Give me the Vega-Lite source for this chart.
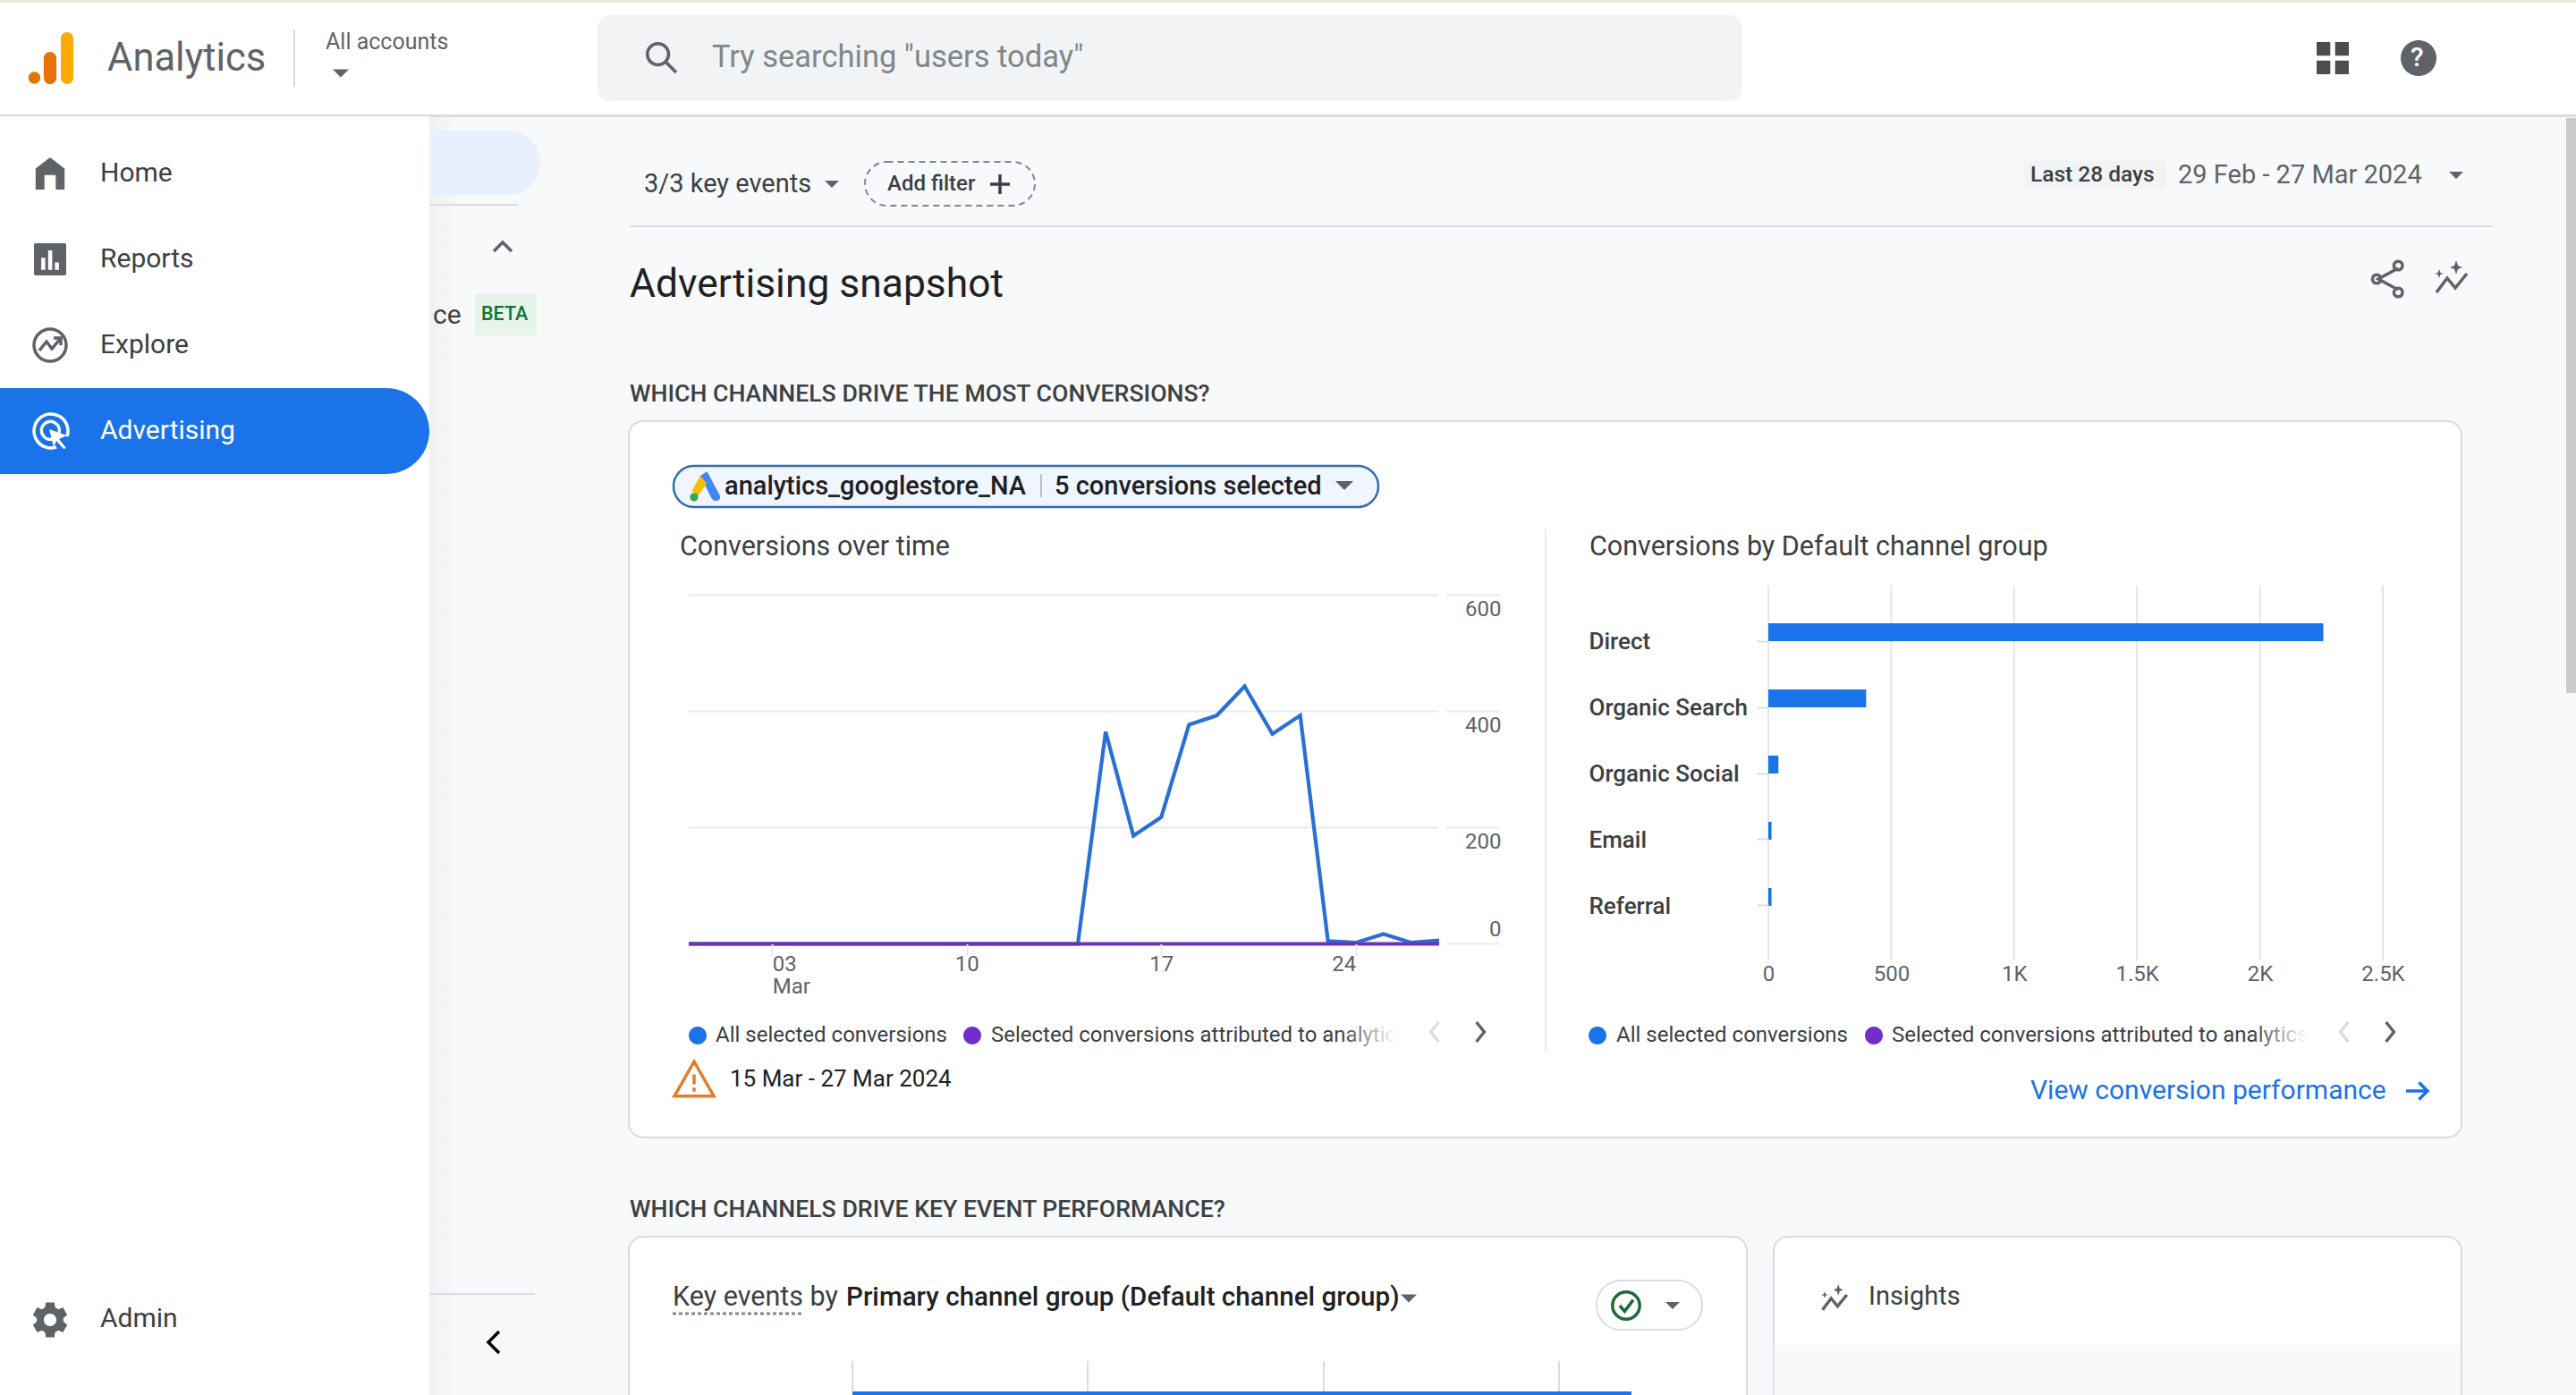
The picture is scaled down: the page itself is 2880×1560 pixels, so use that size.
{
  "$schema": "https://vega.github.io/schema/vega-lite/v6.json",
  "description": "Google Analytics advertising snapshot: conversions over time and by channel group",
  "width": 2880,
  "height": 1560,
  "padding": 0,
  "autosize": {"type": "none"},
  "background": "#f8f9fa",
  "config": {"view": {"stroke": null}},
  "resolve": {"scale": {"x": "independent", "y": "independent", "color": "independent", "size": "independent", "shape": "independent"}},
  "layer": [
    {
      "data": {"values": [{"part": "shadow", "from": 0, "to": 1}]},
      "mark": {"type": "rect", "color": {"gradient": "linear", "x1": 0, "x2": 1, "y1": 0, "y2": 0, "stops": [{"offset": 0, "color": "#eef0f2"}, {"offset": 1, "color": "#f8f9fa"}]}},
      "encoding": {
        "x": {"field": "from", "type": "quantitative", "axis": null, "scale": {"domain": [0, 1], "range": [480, 512], "nice": false, "zero": false}},
        "x2": {"field": "to"},
        "y": {"field": "from", "type": "quantitative", "axis": null, "scale": {"domain": [0, 1], "range": [131, 1560], "nice": false, "zero": false}},
        "y2": {"field": "to"}
      }
    },
    {
      "data": {"values": [{"part": "navPill", "from": 0, "to": 1}]},
      "mark": {"type": "rect", "fill": "#e8f0fe", "cornerRadiusTopRight": 36, "cornerRadiusBottomRight": 36},
      "encoding": {
        "x": {"field": "from", "type": "quantitative", "axis": null, "scale": {"domain": [0, 1], "range": [400, 604], "nice": false, "zero": false}},
        "x2": {"field": "to"},
        "y": {"field": "from", "type": "quantitative", "axis": null, "scale": {"domain": [0, 1], "range": [146, 218], "nice": false, "zero": false}},
        "y2": {"field": "to"}
      }
    },
    {
      "data": {"values": [{"label": "ce"}]},
      "mark": {"type": "text", "font": "Roboto", "fontSize": 30, "fill": "#3c4043", "align": "left", "baseline": "middle"},
      "encoding": {
        "text": {"field": "label"},
        "x": {"field": "label", "type": "nominal", "axis": null, "scale": {"type": "point", "domain": ["ce", "end"], "range": [484, 600], "padding": 0}},
        "y": {"field": "label", "type": "nominal", "axis": null, "scale": {"type": "point", "domain": ["ce", "end"], "range": [353, 400], "padding": 0}}
      }
    },
    {
      "data": {"values": [
        {"part": "header", "from": 0, "to": 1},
        {"part": "strip", "from": 2, "to": 3},
        {"part": "line", "from": 4, "to": 5},
        {"part": "sidebar", "from": 6, "to": 7},
        {"part": "line", "from": 8, "to": 9},
        {"part": "line", "from": 10, "to": 11},
        {"part": "line", "from": 12, "to": 13},
        {"part": "line", "from": 14, "to": 15},
        {"part": "beta", "from": 16, "to": 17},
        {"part": "badge", "from": 18, "to": 19},
        {"part": "scrollbar", "from": 20, "to": 21}
      ]},
      "mark": {"type": "rect"},
      "encoding": {
        "x": {"field": "from", "type": "quantitative", "axis": null, "scale": {"domain": [0, 1, 2, 3, 4, 5, 6, 7, 8, 9, 10, 11, 12, 13, 14, 15, 16, 17, 18, 19, 20, 21], "range": [0, 2880, 0, 2880, 0, 2880, 0, 480, 328, 330, 480, 579, 480, 598, 704, 2787, 531, 600, 2263, 2422, 2869, 2880], "nice": false, "zero": false}},
        "x2": {"field": "to"},
        "y": {"field": "from", "type": "quantitative", "axis": null, "scale": {"domain": [0, 1, 2, 3, 4, 5, 6, 7, 8, 9, 10, 11, 12, 13, 14, 15, 16, 17, 18, 19, 20, 21], "range": [0, 130, 0, 3, 128, 131, 130, 1560, 33, 97, 228, 230, 1446, 1448, 252, 254, 328, 375, 180, 212, 132, 775], "nice": false, "zero": false}},
        "y2": {"field": "to"},
        "color": {"field": "part", "type": "nominal", "legend": null, "scale": {"domain": ["header", "strip", "line", "sidebar", "beta", "badge", "scrollbar"], "range": ["#ffffff", "#e8e8de", "#dadce0", "#ffffff", "#e6f4ea", "#f1f3f4", "#c8cacc"]}}
      }
    },
    {
      "data": {"values": [{"part": "active", "from": 0, "to": 1}]},
      "mark": {"type": "rect", "fill": "#1a73e8", "cornerRadiusTopRight": 48, "cornerRadiusBottomRight": 48},
      "encoding": {
        "x": {"field": "from", "type": "quantitative", "axis": null, "scale": {"domain": [0, 1], "range": [0, 480], "nice": false, "zero": false}},
        "x2": {"field": "to"},
        "y": {"field": "from", "type": "quantitative", "axis": null, "scale": {"domain": [0, 1], "range": [434, 530], "nice": false, "zero": false}},
        "y2": {"field": "to"}
      }
    },
    {
      "data": {"values": [{"part": "search", "from": 0, "to": 1}]},
      "mark": {"type": "rect", "fill": "#f1f3f4", "cornerRadius": 14},
      "encoding": {
        "x": {"field": "from", "type": "quantitative", "axis": null, "scale": {"domain": [0, 1], "range": [668, 1948], "nice": false, "zero": false}},
        "x2": {"field": "to"},
        "y": {"field": "from", "type": "quantitative", "axis": null, "scale": {"domain": [0, 1], "range": [17, 113], "nice": false, "zero": false}},
        "y2": {"field": "to"}
      }
    },
    {
      "data": {"values": [{"part": "addFilter", "from": 0, "to": 1}]},
      "mark": {"type": "rect", "fill": "#f8f9fa", "stroke": "#80868b", "strokeWidth": 2, "strokeDash": [7, 5], "cornerRadius": 25},
      "encoding": {
        "x": {"field": "from", "type": "quantitative", "axis": null, "scale": {"domain": [0, 1], "range": [967, 1157], "nice": false, "zero": false}},
        "x2": {"field": "to"},
        "y": {"field": "from", "type": "quantitative", "axis": null, "scale": {"domain": [0, 1], "range": [181, 230], "nice": false, "zero": false}},
        "y2": {"field": "to"}
      }
    },
    {
      "data": {"values": [
        {"part": "snapshot", "from": 0, "to": 1},
        {"part": "keyEvents", "from": 2, "to": 3},
        {"part": "insights", "from": 4, "to": 5}
      ]},
      "mark": {"type": "rect", "fill": "#ffffff", "stroke": "#dadce0", "strokeWidth": 2, "cornerRadius": 16, "clip": true},
      "encoding": {
        "x": {"field": "from", "type": "quantitative", "axis": null, "scale": {"domain": [0, 1, 2, 3, 4, 5], "range": [703, 2752, 703, 1953, 1983, 2752], "nice": false, "zero": false}},
        "x2": {"field": "to"},
        "y": {"field": "from", "type": "quantitative", "axis": null, "scale": {"domain": [0, 1, 2, 3, 4, 5], "range": [471, 1272, 1383, 1620, 1383, 1620], "nice": false, "zero": false}},
        "y2": {"field": "to"}
      }
    },
    {
      "data": {"values": [
        {"part": "divider", "from": 0, "to": 1},
        {"part": "footer", "from": 2, "to": 3},
        {"part": "tick", "from": 4, "to": 5},
        {"part": "tick", "from": 6, "to": 7},
        {"part": "tick", "from": 8, "to": 9},
        {"part": "tick", "from": 10, "to": 11},
        {"part": "bar", "from": 12, "to": 13}
      ]},
      "mark": {"type": "rect"},
      "encoding": {
        "x": {"field": "from", "type": "quantitative", "axis": null, "scale": {"domain": [0, 1, 2, 3, 4, 5, 6, 7, 8, 9, 10, 11, 12, 13], "range": [1727, 1729, 1985, 2751, 952, 954, 1215, 1217, 1479, 1481, 1742, 1744, 953, 1824], "nice": false, "zero": false}},
        "x2": {"field": "to"},
        "y": {"field": "from", "type": "quantitative", "axis": null, "scale": {"domain": [0, 1, 2, 3, 4, 5, 6, 7, 8, 9, 10, 11, 12, 13], "range": [592, 1176, 1504, 1560, 1522, 1556, 1522, 1556, 1522, 1556, 1522, 1556, 1556, 1560], "nice": false, "zero": false}},
        "y2": {"field": "to"},
        "color": {"field": "part", "type": "nominal", "legend": null, "scale": {"domain": ["divider", "footer", "tick", "bar"], "range": ["#e8eaed", "#f8f9fa", "#dadce0", "#1a73e8"]}}
      }
    },
    {
      "data": {"values": [{"part": "chip", "from": 0, "to": 1}]},
      "mark": {"type": "rect", "fill": "#f0f5fe", "stroke": "#2f6db5", "strokeWidth": 2.5, "cornerRadius": 23},
      "encoding": {
        "x": {"field": "from", "type": "quantitative", "axis": null, "scale": {"domain": [0, 1], "range": [753, 1541], "nice": false, "zero": false}},
        "x2": {"field": "to"},
        "y": {"field": "from", "type": "quantitative", "axis": null, "scale": {"domain": [0, 1], "range": [521, 567], "nice": false, "zero": false}},
        "y2": {"field": "to"}
      }
    },
    {
      "data": {"values": [{"part": "chipSep", "from": 0, "to": 1}]},
      "mark": {"type": "rect", "fill": "#bdc1c6"},
      "encoding": {
        "x": {"field": "from", "type": "quantitative", "axis": null, "scale": {"domain": [0, 1], "range": [1163, 1165], "nice": false, "zero": false}},
        "x2": {"field": "to"},
        "y": {"field": "from", "type": "quantitative", "axis": null, "scale": {"domain": [0, 1], "range": [530, 556], "nice": false, "zero": false}},
        "y2": {"field": "to"}
      }
    },
    {
      "data": {"values": [{"part": "goalPill", "from": 0, "to": 1}]},
      "mark": {"type": "rect", "fill": "#ffffff", "stroke": "#dadce0", "strokeWidth": 2, "cornerRadius": 27},
      "encoding": {
        "x": {"field": "from", "type": "quantitative", "axis": null, "scale": {"domain": [0, 1], "range": [1785, 1903], "nice": false, "zero": false}},
        "x2": {"field": "to"},
        "y": {"field": "from", "type": "quantitative", "axis": null, "scale": {"domain": [0, 1], "range": [1432, 1487], "nice": false, "zero": false}},
        "y2": {"field": "to"}
      }
    },
    {
      "data": {"values": [{"from": 0, "to": 1}]},
      "mark": {"type": "rule", "stroke": "#80868b", "strokeWidth": 3, "strokeDash": [4, 3]},
      "encoding": {
        "x": {"field": "from", "type": "quantitative", "axis": null, "scale": {"domain": [0, 1], "range": [752, 899], "nice": false, "zero": false}},
        "x2": {"field": "to"},
        "y": {"field": "from", "type": "quantitative", "axis": null, "scale": {"domain": [0, 1], "range": [1469, 1500], "nice": false, "zero": false}}
      }
    },
    {
      "data": {"values": [
        {"value": 600, "from": 0, "to": 1}, {"value": 600, "from": 2, "to": 3},
        {"value": 400, "from": 0, "to": 1}, {"value": 400, "from": 2, "to": 3},
        {"value": 200, "from": 0, "to": 1}, {"value": 200, "from": 2, "to": 3},
        {"value": 0, "from": 2, "to": 3}
      ]},
      "mark": {"type": "rule", "stroke": "#e8eaed", "strokeWidth": 2},
      "encoding": {
        "x": {"field": "from", "type": "quantitative", "axis": null, "scale": {"domain": [0, 1, 2, 3], "range": [770, 1608, 1617, 1677], "nice": false, "zero": false}},
        "x2": {"field": "to"},
        "y": {"field": "value", "type": "quantitative", "axis": null, "scale": {"domain": [0, 600], "range": [1055.5, 665.5], "nice": false, "zero": false}}
      }
    },
    {
      "data": {"values": [
        {"day": "2024-02-29T00:00", "series": "All selected", "value": 0},
        {"day": "2024-03-01T00:00", "series": "All selected", "value": 0},
        {"day": "2024-03-02T00:00", "series": "All selected", "value": 0},
        {"day": "2024-03-03T00:00", "series": "All selected", "value": 0},
        {"day": "2024-03-04T00:00", "series": "All selected", "value": 0},
        {"day": "2024-03-05T00:00", "series": "All selected", "value": 0},
        {"day": "2024-03-06T00:00", "series": "All selected", "value": 0},
        {"day": "2024-03-07T00:00", "series": "All selected", "value": 0},
        {"day": "2024-03-08T00:00", "series": "All selected", "value": 0},
        {"day": "2024-03-09T00:00", "series": "All selected", "value": 0},
        {"day": "2024-03-10T00:00", "series": "All selected", "value": 0},
        {"day": "2024-03-11T00:00", "series": "All selected", "value": 0},
        {"day": "2024-03-12T00:00", "series": "All selected", "value": 0},
        {"day": "2024-03-13T00:00", "series": "All selected", "value": 0},
        {"day": "2024-03-14T00:00", "series": "All selected", "value": 0},
        {"day": "2024-03-15T00:00", "series": "All selected", "value": 365},
        {"day": "2024-03-16T00:00", "series": "All selected", "value": 186},
        {"day": "2024-03-17T00:00", "series": "All selected", "value": 218},
        {"day": "2024-03-18T00:00", "series": "All selected", "value": 377},
        {"day": "2024-03-19T00:00", "series": "All selected", "value": 393},
        {"day": "2024-03-20T00:00", "series": "All selected", "value": 443},
        {"day": "2024-03-21T00:00", "series": "All selected", "value": 361},
        {"day": "2024-03-22T00:00", "series": "All selected", "value": 393},
        {"day": "2024-03-23T00:00", "series": "All selected", "value": 5},
        {"day": "2024-03-24T00:00", "series": "All selected", "value": 2},
        {"day": "2024-03-25T00:00", "series": "All selected", "value": 17},
        {"day": "2024-03-26T00:00", "series": "All selected", "value": 2},
        {"day": "2024-03-27T00:00", "series": "All selected", "value": 6},
        {"day": "2024-02-29T00:00", "series": "Attributed", "value": 0},
        {"day": "2024-03-01T00:00", "series": "Attributed", "value": 0},
        {"day": "2024-03-02T00:00", "series": "Attributed", "value": 0},
        {"day": "2024-03-03T00:00", "series": "Attributed", "value": 0},
        {"day": "2024-03-04T00:00", "series": "Attributed", "value": 0},
        {"day": "2024-03-05T00:00", "series": "Attributed", "value": 0},
        {"day": "2024-03-06T00:00", "series": "Attributed", "value": 0},
        {"day": "2024-03-07T00:00", "series": "Attributed", "value": 0},
        {"day": "2024-03-08T00:00", "series": "Attributed", "value": 0},
        {"day": "2024-03-09T00:00", "series": "Attributed", "value": 0},
        {"day": "2024-03-10T00:00", "series": "Attributed", "value": 0},
        {"day": "2024-03-11T00:00", "series": "Attributed", "value": 0},
        {"day": "2024-03-12T00:00", "series": "Attributed", "value": 0},
        {"day": "2024-03-13T00:00", "series": "Attributed", "value": 0},
        {"day": "2024-03-14T00:00", "series": "Attributed", "value": 0},
        {"day": "2024-03-15T00:00", "series": "Attributed", "value": 0},
        {"day": "2024-03-16T00:00", "series": "Attributed", "value": 0},
        {"day": "2024-03-17T00:00", "series": "Attributed", "value": 0},
        {"day": "2024-03-18T00:00", "series": "Attributed", "value": 0},
        {"day": "2024-03-19T00:00", "series": "Attributed", "value": 0},
        {"day": "2024-03-20T00:00", "series": "Attributed", "value": 0},
        {"day": "2024-03-21T00:00", "series": "Attributed", "value": 0},
        {"day": "2024-03-22T00:00", "series": "Attributed", "value": 0},
        {"day": "2024-03-23T00:00", "series": "Attributed", "value": 0},
        {"day": "2024-03-24T00:00", "series": "Attributed", "value": 0},
        {"day": "2024-03-25T00:00", "series": "Attributed", "value": 0},
        {"day": "2024-03-26T00:00", "series": "Attributed", "value": 0},
        {"day": "2024-03-27T00:00", "series": "Attributed", "value": 0}
      ]},
      "mark": {"type": "line", "strokeWidth": 4.2, "strokeJoin": "miter"},
      "encoding": {
        "x": {
          "field": "day", "type": "temporal",
          "scale": {"domain": [{"year": 2024, "month": 2, "date": 29}, {"year": 2024, "month": 3, "date": 27}], "range": [770, 1609], "nice": false},
          "axis": {
            "title": null, "orient": "bottom", "offset": -504.5, "grid": false, "domain": false, "zindex": 1,
            "values": [{"year": 2024, "month": 3, "date": 3}, {"year": 2024, "month": 3, "date": 10}, {"year": 2024, "month": 3, "date": 17}, {"year": 2024, "month": 3, "date": 24}],
            "labelExpr": "timeFormat(datum.value, '%d') === '03' ? ['03', 'Mar'] : timeFormat(datum.value, '%d')",
            "labelAlign": {"condition": [{"test": "timeFormat(datum.value, '%d') === '03'", "value": "left"}, {"test": "timeFormat(datum.value, '%d') === '24'", "value": "right"}], "value": "center"},
            "labelBaseline": "top", "labelFont": "Roboto", "labelFontSize": 24, "labelColor": "#5f6368", "labelPadding": -2, "labelLineHeight": 25,
            "tickSize": 13, "tickColor": "#e8eaed", "tickWidth": 2, "labelFlush": false, "labelOverlap": false
          }
        },
        "y": {
          "field": "value", "type": "quantitative",
          "scale": {"domain": [0, 600], "range": [1055.5, 665.5], "nice": false, "zero": false},
          "axis": {
            "title": null, "orient": "right", "offset": -1202, "grid": false, "domain": false, "ticks": false, "zindex": 1,
            "values": [0, 200, 400, 600],
            "labelAlign": "right", "labelBaseline": "middle", "labelFont": "Roboto", "labelFontSize": 24, "labelColor": "#5f6368", "labelPadding": 0,
            "labelOffset": {"condition": {"test": "datum.value === 0", "value": -16}, "value": 16}
          }
        },
        "color": {"field": "series", "type": "nominal", "legend": null, "scale": {"domain": ["All selected", "Attributed"], "range": ["#2a6fd4", "#6a35b0"]}}
      }
    },
    {
      "data": {"values": [
        {"value": 0, "from": 0, "to": 1}, {"value": 500, "from": 0, "to": 1}, {"value": 1000, "from": 0, "to": 1},
        {"value": 1500, "from": 0, "to": 1}, {"value": 2000, "from": 0, "to": 1}, {"value": 2500, "from": 0, "to": 1}
      ]},
      "mark": {"type": "rule", "stroke": "#e3e5e8", "strokeWidth": 2},
      "encoding": {
        "x": {"field": "value", "type": "quantitative", "axis": null, "scale": {"domain": [0, 2500], "range": [1977, 2664], "nice": false, "zero": false}},
        "y": {"field": "from", "type": "quantitative", "axis": null, "scale": {"domain": [0, 1], "range": [654.5, 1074], "nice": false, "zero": false}},
        "y2": {"field": "to"}
      }
    },
    {
      "data": {"values": [
        {"channel": "Direct", "series": "All selected", "value": 2258},
        {"channel": "Direct", "series": "Attributed", "value": 0},
        {"channel": "Organic Search", "series": "All selected", "value": 398},
        {"channel": "Organic Search", "series": "Attributed", "value": 0},
        {"channel": "Organic Social", "series": "All selected", "value": 41},
        {"channel": "Organic Social", "series": "Attributed", "value": 0},
        {"channel": "Email", "series": "All selected", "value": 13},
        {"channel": "Email", "series": "Attributed", "value": 0},
        {"channel": "Referral", "series": "All selected", "value": 13},
        {"channel": "Referral", "series": "Attributed", "value": 0}
      ]},
      "mark": {"type": "bar"},
      "encoding": {
        "x": {
          "field": "value", "type": "quantitative",
          "scale": {"domain": [0, 2500], "range": [1977, 2664], "nice": false, "zero": false},
          "axis": {
            "title": null, "orient": "bottom", "offset": -487, "grid": false, "domain": false, "ticks": false, "zindex": 1,
            "values": [0, 500, 1000, 1500, 2000, 2500],
            "labelExpr": "datum.value >= 1000 ? (datum.value / 1000) + 'K' : datum.value",
            "labelFont": "Roboto", "labelFontSize": 24, "labelColor": "#5f6368", "labelPadding": 4, "labelBaseline": "top", "labelFlush": false
          }
        },
        "y": {
          "field": "channel", "type": "nominal",
          "scale": {"domain": ["Direct", "Organic Search", "Organic Social", "Email", "Referral"], "range": [663, 1067], "paddingInner": 0.4595, "paddingOuter": 0.4595},
          "axis": {
            "title": null, "orient": "left", "offset": -1977, "grid": false, "domain": false, "zindex": 1,
            "labelAlign": "left", "labelFont": "Roboto", "labelFontSize": 26, "labelFontWeight": 500, "labelColor": "#3c4043", "labelPadding": 188, "labelOffset": 1,
            "tickSize": 13, "tickColor": "#dadce0", "tickWidth": 2
          }
        },
        "yOffset": {"field": "series", "type": "nominal", "scale": {"domain": ["All selected", "Attributed"]}},
        "color": {"field": "series", "type": "nominal", "legend": null, "scale": {"domain": ["All selected", "Attributed"], "range": ["#1a73e8", "#6a35b0"]}}
      }
    },
    {
      "data": {"values": [
        {"slot": 0, "icon": "logoDot"}, {"slot": 1, "icon": "logoMid"}, {"slot": 2, "icon": "logoTall"},
        {"slot": 3, "icon": "home"}, {"slot": 4, "icon": "reports"}, {"slot": 5, "icon": "admin"},
        {"slot": 6, "icon": "apps"}, {"slot": 7, "icon": "help"},
        {"slot": 8, "icon": "tri18"}, {"slot": 9, "icon": "tri16"}, {"slot": 10, "icon": "tri16"},
        {"slot": 11, "icon": "tri20"}, {"slot": 12, "icon": "tri18"}, {"slot": 13, "icon": "tri16"},
        {"slot": 14, "icon": "adsBlue"}, {"slot": 15, "icon": "adsYellow"}, {"slot": 16, "icon": "adsGreen"},
        {"slot": 17, "icon": "dotBlue"}, {"slot": 18, "icon": "dotPurple"}, {"slot": 19, "icon": "dotBlue"}, {"slot": 20, "icon": "dotPurple"},
        {"slot": 21, "icon": "cursor"}, {"slot": 22, "icon": "sparkle"}, {"slot": 23, "icon": "sparkleSmall"}
      ]},
      "mark": {"type": "point", "filled": true, "opacity": 1, "strokeWidth": 0},
      "encoding": {
        "x": {"field": "slot", "type": "quantitative", "axis": null, "scale": {"domain": [0, 1, 2, 3, 4, 5, 6, 7, 8, 9, 10, 11, 12, 13, 14, 15, 16, 17, 18, 19, 20, 21, 22, 23], "range": [57, 57, 57, 56, 56, 56, 2608, 2704, 381, 930, 2746, 1503, 1575, 1870, 788, 788, 788, 780, 1087, 1786, 2095, 57, 2742, 2052], "nice": false, "zero": false}},
        "y": {"field": "slot", "type": "quantitative", "axis": null, "scale": {"domain": [0, 1, 2, 3, 4, 5, 6, 7, 8, 9, 10, 11, 12, 13, 14, 15, 16, 17, 18, 19, 20, 21, 22, 23], "range": [65, 65, 65, 194, 290, 1476, 65, 65, 82, 206, 196, 543, 1452, 1460, 544, 544, 544, 1158, 1158, 1158, 1158, 482, 311, 1452], "nice": false, "zero": false}},
        "shape": {"field": "icon", "type": "nominal", "legend": null, "scale": {
          "domain": ["logoDot", "logoMid", "logoTall", "home", "reports", "admin", "apps", "help", "tri18", "tri16", "tri20", "adsBlue", "adsYellow", "adsGreen", "dotBlue", "dotPurple", "cursor", "sparkle", "sparkleSmall"],
          "range": [
            "M-0.87 0.76A0.23 0.23 0 1 1 -0.41 0.76A0.23 0.23 0 1 1 -0.87 0.76Z",
            "M-0.28 0.0A0.245 0.245 0 0 1 0.21 0.0V0.76A0.245 0.245 0 0 1 -0.28 0.76Z",
            "M0.38 -0.76A0.24 0.24 0 0 1 0.86 -0.76V0.76A0.24 0.24 0 0 1 0.38 0.76Z",
            "M0 -1L0.9 -0.3V1H0.35V0.1H-0.35V1H-0.9V-0.3Z",
            "M-0.9 -1H0.9Q1 -1 1 -0.9V0.9Q1 1 0.9 1H-0.9Q-1 1 -1 0.9V-0.9Q-1 -1 -0.9 -1ZM-0.55 -0.1V0.65H-0.3V-0.1ZM-0.12 -0.55V0.65H0.13V-0.55ZM0.3 0.2V0.65H0.55V0.2Z",
            "M-0.24 -0.97L0.24 -0.97L0.28 -0.695L0.462 -0.591L0.72 -0.695L0.96 -0.276L0.743 -0.104L0.743 0.104L0.96 0.276L0.72 0.695L0.462 0.591L0.28 0.695L0.24 0.97L-0.24 0.97L-0.28 0.695L-0.462 0.591L-0.72 0.695L-0.96 0.276L-0.743 0.104L-0.743 -0.104L-0.96 -0.276L-0.72 -0.695L-0.462 -0.591L-0.28 -0.695ZM0.35 0A0.35 0.35 0 1 0 -0.35 0A0.35 0.35 0 1 0 0.35 0Z",
            "M-1 -1H-0.15V-0.15H-1ZM0.15 -1H1V-0.15H0.15ZM-1 0.15H-0.15V1H-1ZM0.15 0.15H1V1H0.15Z",
            "M-1 0A1 1 0 1 1 1 0A1 1 0 1 1 -1 0Z",
            "M-1 -0.5H1L0 0.5Z",
            "M-1 -0.5H1L0 0.5Z",
            "M-1 -0.5H1L0 0.5Z",
            "M-0.3 -0.7L0.15 -0.98L1 0.62Q1.05 0.9 0.75 0.95Q0.55 0.95 0.45 0.8Z",
            "M-0.3 -0.7L0.12 -0.2L-0.42 0.6L-0.85 0.3Z",
            "M-0.98 0.7A0.27 0.27 0 1 1 -0.44 0.7A0.27 0.27 0 1 1 -0.98 0.7Z",
            "M-1 0A1 1 0 1 1 1 0A1 1 0 1 1 -1 0Z",
            "M-1 0A1 1 0 1 1 1 0A1 1 0 1 1 -1 0Z",
            "M-0.1 -0.1L0.9 0.25L0.45 0.45L0.85 0.95L0.7 1L0.3 0.55L0.15 0.9Z",
            "M0.2 -1L0.3 -0.7L0.55 -0.6L0.3 -0.5L0.2 -0.2L0.1 -0.5L-0.15 -0.6L0.1 -0.7ZM-0.75 -0.5L-0.68 -0.3L-0.5 -0.25L-0.68 -0.2L-0.75 0L-0.82 -0.2L-1 -0.25L-0.82 -0.3Z",
            "M0.2 -1L0.3 -0.7L0.55 -0.6L0.3 -0.5L0.2 -0.2L0.1 -0.5L-0.15 -0.6L0.1 -0.7ZM-0.75 -0.5L-0.68 -0.3L-0.5 -0.25L-0.68 -0.2L-0.75 0L-0.82 -0.2L-1 -0.25L-0.82 -0.3Z"
          ]
        }},
        "size": {"field": "icon", "type": "ordinal", "legend": null, "scale": {
          "type": "ordinal",
          "domain": ["logoDot", "logoMid", "logoTall", "home", "reports", "admin", "apps", "help", "tri18", "tri16", "tri20", "adsBlue", "adsYellow", "adsGreen", "dotBlue", "dotPurple", "cursor", "sparkle", "sparkleSmall"],
          "range": [3364, 3364, 3364, 1296, 1296, 1600, 1296, 1600, 324, 256, 400, 1156, 1156, 1156, 400, 400, 1600, 1600, 1024]
        }},
        "color": {"field": "icon", "type": "nominal", "legend": null, "scale": {
          "domain": ["logoDot", "logoMid", "logoTall", "home", "reports", "admin", "apps", "help", "tri18", "tri16", "tri20", "adsBlue", "adsYellow", "adsGreen", "dotBlue", "dotPurple", "cursor", "sparkle", "sparkleSmall"],
          "range": ["#e37400", "#e8710a", "#f9ab00", "#5f6368", "#5f6368", "#5f6368", "#4d4d4d", "#5f6368", "#5f6368", "#5f6368", "#5f6368", "#4285f4", "#fbbc04", "#34a853", "#1a73e8", "#6f2fcf", "#ffffff", "#5f6368", "#5f6368"]
        }}
      }
    },
    {
      "data": {"values": [
        {"slot": 0, "icon": "search"}, {"slot": 1, "icon": "explore"}, {"slot": 2, "icon": "target"},
        {"slot": 3, "icon": "up"}, {"slot": 4, "icon": "collapse"}, {"slot": 5, "icon": "plus"},
        {"slot": 6, "icon": "share"}, {"slot": 7, "icon": "trend"}, {"slot": 8, "icon": "trendSmall"},
        {"slot": 9, "icon": "prev"}, {"slot": 10, "icon": "next"}, {"slot": 11, "icon": "prev"}, {"slot": 12, "icon": "next"},
        {"slot": 13, "icon": "warning"}, {"slot": 14, "icon": "arrow"}, {"slot": 15, "icon": "check"}
      ]},
      "mark": {"type": "point", "filled": false, "opacity": 1, "strokeWidth": 3.5},
      "encoding": {
        "x": {"field": "slot", "type": "quantitative", "axis": null, "scale": {"domain": [0, 1, 2, 3, 4, 5, 6, 7, 8, 9, 10, 11, 12, 13, 14, 15], "range": [739, 56, 57, 562, 552, 1118, 2670, 2742, 2052, 1604, 1655, 2621, 2672, 776, 2702, 1818], "nice": false, "zero": false}},
        "y": {"field": "slot", "type": "quantitative", "axis": null, "scale": {"domain": [0, 1, 2, 3, 4, 5, 6, 7, 8, 9, 10, 11, 12, 13, 14, 15], "range": [64, 386, 482, 276, 1501, 206, 312, 311, 1452, 1154, 1154, 1154, 1154, 1207, 1220, 1460], "nice": false, "zero": false}},
        "shape": {"field": "icon", "type": "nominal", "legend": null, "scale": {
          "domain": ["search", "explore", "target", "up", "collapse", "plus", "share", "trend", "trendSmall", "prev", "next", "warning", "arrow", "check"],
          "range": [
            "M0.5 -0.2A0.7 0.7 0 1 1 -0.9 -0.2A0.7 0.7 0 1 1 0.5 -0.2ZM0.3 0.3L1 1",
            "M0.9 0A0.9 0.9 0 1 1 -0.9 0A0.9 0.9 0 1 1 0.9 0ZM-0.6 0.3L-0.2 -0.2L0.1 0.2L0.6 -0.4M0.2 -0.4H0.6V0",
            "M0.3 0.9A0.95 0.95 0 1 1 0.9 0.3M0.1 0.45A0.5 0.5 0 1 1 0.45 0.1",
            "M-1 0.5L0 -0.5L1 0.5",
            "M0.5 -1L-0.5 0L0.5 1",
            "M-1 0H1M0 -1V1",
            "M0.55 -0.6L-0.55 0L0.55 0.6M0.8 -0.75A0.24 0.24 0 1 1 0.32 -0.75A0.24 0.24 0 1 1 0.8 -0.75ZM-0.4 0A0.24 0.24 0 1 1 -0.88 0A0.24 0.24 0 1 1 -0.4 0ZM0.8 0.75A0.24 0.24 0 1 1 0.32 0.75A0.24 0.24 0 1 1 0.8 0.75Z",
            "M-0.9 0.8L-0.3 0L0.15 0.55L0.8 -0.25",
            "M-0.9 0.8L-0.3 0L0.15 0.55L0.8 -0.25",
            "M0.4 -1L-0.4 0L0.4 1",
            "M-0.4 -1L0.4 0L-0.4 1",
            "M0 -0.9L1 0.85H-1ZM0 -0.25V0.25M0 0.42V0.62",
            "M-1 0H0.9M0.2 -0.8L1 0L0.2 0.8",
            "M0.95 0A0.95 0.95 0 1 1 -0.95 0A0.95 0.95 0 1 1 0.95 0ZM-0.45 0L-0.1 0.4L0.5 -0.4"
          ]
        }},
        "size": {"field": "icon", "type": "ordinal", "legend": null, "scale": {
          "type": "ordinal",
          "domain": ["search", "explore", "target", "up", "collapse", "plus", "share", "trend", "trendSmall", "prev", "next", "warning", "arrow", "check"],
          "range": [1156, 1600, 1600, 400, 576, 484, 1600, 1600, 1024, 484, 484, 1936, 576, 1024]
        }},
        "color": {"field": "icon", "type": "nominal", "legend": null, "scale": {
          "domain": ["search", "explore", "target", "up", "collapse", "plus", "share", "trend", "trendSmall", "prev", "next", "warning", "arrow", "check"],
          "range": ["#5f6368", "#5f6368", "#ffffff", "#5f6368", "#000000", "#3c4043", "#5f6368", "#5f6368", "#5f6368", "#dadce0", "#5f6368", "#e37b2b", "#1a73e8", "#1e6b3a"]
        }}
      }
    },
    {
      "data": {"values": [
        {"slot": 0, "label": "Analytics", "role": "brand"},
        {"slot": 1, "label": "All accounts", "role": "account"},
        {"slot": 2, "label": "Try searching \"users today\"", "role": "search"},
        {"slot": 3, "label": "Home", "role": "nav"},
        {"slot": 4, "label": "Reports", "role": "nav"},
        {"slot": 5, "label": "Explore", "role": "nav"},
        {"slot": 6, "label": "Advertising", "role": "navActive"},
        {"slot": 7, "label": "Admin", "role": "nav"},
        {"slot": 8, "label": "3/3 key events", "role": "filter"},
        {"slot": 9, "label": "29 Feb - 27 Mar 2024", "role": "date"},
        {"slot": 10, "label": "Advertising snapshot", "role": "heading"},
        {"slot": 11, "label": "Conversions over time", "role": "title"},
        {"slot": 12, "label": "Conversions by Default channel group", "role": "title"},
        {"slot": 13, "label": "All selected conversions", "role": "legend"},
        {"slot": 14, "label": "Selected conversions attributed to analytic", "role": "legend"},
        {"slot": 15, "label": "All selected conversions", "role": "legend"},
        {"slot": 16, "label": "Selected conversions attributed to analytics", "role": "legend"},
        {"slot": 17, "label": "15 Mar - 27 Mar 2024", "role": "warn"},
        {"slot": 18, "label": "View conversion performance", "role": "link"},
        {"slot": 19, "label": "Key events by", "role": "title"},
        {"slot": 20, "label": "Insights", "role": "insight"}
      ]},
      "mark": {"type": "text", "font": "Roboto", "align": "left", "baseline": "middle"},
      "encoding": {
        "text": {"field": "label"},
        "x": {"field": "slot", "type": "quantitative", "axis": null, "scale": {"domain": [0, 1, 2, 3, 4, 5, 6, 7, 8, 9, 10, 11, 12, 13, 14, 15, 16, 17, 18, 19, 20], "range": [120, 364, 796, 112, 112, 112, 112, 112, 720, 2435, 704, 760, 1777, 800, 1108, 1807, 2115, 816, 2270, 752, 2089], "nice": false, "zero": false}},
        "y": {"field": "slot", "type": "quantitative", "axis": null, "scale": {"domain": [0, 1, 2, 3, 4, 5, 6, 7, 8, 9, 10, 11, 12, 13, 14, 15, 16, 17, 18, 19, 20], "range": [66, 47, 65, 194, 290, 386, 482, 1475, 206, 196, 319, 612, 612, 1158, 1158, 1158, 1158, 1207, 1220, 1451, 1450], "nice": false, "zero": false}},
        "size": {"field": "role", "type": "ordinal", "legend": null, "scale": {
          "type": "ordinal",
          "domain": ["brand", "account", "search", "nav", "navActive", "filter", "date", "heading", "title", "legend", "warn", "link", "insight"],
          "range": [43.5, 25, 34.5, 30, 30, 29, 29, 44.4, 30.5, 24, 26, 30, 29]
        }},
        "color": {"field": "role", "type": "nominal", "legend": null, "scale": {
          "domain": ["brand", "account", "search", "nav", "navActive", "filter", "date", "heading", "title", "legend", "warn", "link", "insight"],
          "range": ["#5f6368", "#5f6368", "#80868b", "#3c4043", "#ffffff", "#3c4043", "#5f6368", "#202124", "#3c4043", "#3c4043", "#202124", "#1a73e8", "#3c4043"]
        }}
      }
    },
    {
      "data": {"values": [
        {"slot": 0, "label": "WHICH CHANNELS DRIVE THE MOST CONVERSIONS?", "role": "section"},
        {"slot": 1, "label": "WHICH CHANNELS DRIVE KEY EVENT PERFORMANCE?", "role": "section"},
        {"slot": 2, "label": "analytics_googlestore_NA", "role": "chip"},
        {"slot": 3, "label": "5 conversions selected", "role": "chip"},
        {"slot": 4, "label": "Add filter", "role": "addFilter"},
        {"slot": 5, "label": "Last 28 days", "role": "badge"},
        {"slot": 6, "label": "BETA", "role": "beta"},
        {"slot": 7, "label": "Primary channel group (Default channel group)", "role": "channel"},
        {"slot": 8, "label": "?", "role": "help"}
      ]},
      "mark": {"type": "text", "font": "Roboto", "fontWeight": 500, "align": "left", "baseline": "middle"},
      "encoding": {
        "text": {"field": "label"},
        "x": {"field": "slot", "type": "quantitative", "axis": null, "scale": {"domain": [0, 1, 2, 3, 4, 5, 6, 7, 8], "range": [704, 704, 810, 1179, 992, 2270, 538, 946, 2695], "nice": false, "zero": false}},
        "y": {"field": "slot", "type": "quantitative", "axis": null, "scale": {"domain": [0, 1, 2, 3, 4, 5, 6, 7, 8], "range": [441, 1353, 544, 544, 206, 196, 352, 1451, 65], "nice": false, "zero": false}},
        "size": {"field": "role", "type": "ordinal", "legend": null, "scale": {
          "type": "ordinal",
          "domain": ["section", "chip", "addFilter", "badge", "beta", "channel", "help"],
          "range": [26.7, 29, 24, 24.5, 21.5, 29.6, 30]
        }},
        "color": {"field": "role", "type": "nominal", "legend": null, "scale": {
          "domain": ["section", "chip", "addFilter", "badge", "beta", "channel", "help"],
          "range": ["#3c4043", "#202124", "#3c4043", "#3c4043", "#137333", "#202124", "#ffffff"]
        }}
      }
    },
    {
      "data": {"values": [{"part": "fade", "from": 0, "to": 1}, {"part": "fade", "from": 2, "to": 3}]},
      "mark": {"type": "rect", "color": {"gradient": "linear", "x1": 0, "x2": 1, "y1": 0, "y2": 0, "stops": [{"offset": 0, "color": "rgba(255,255,255,0)"}, {"offset": 0.65, "color": "rgba(255,255,255,1)"}, {"offset": 1, "color": "rgba(255,255,255,1)"}]}},
      "encoding": {
        "x": {"field": "from", "type": "quantitative", "axis": null, "scale": {"domain": [0, 1, 2, 3], "range": [1498, 1594, 2518, 2612], "nice": false, "zero": false}},
        "x2": {"field": "to"},
        "y": {"field": "from", "type": "quantitative", "axis": null, "scale": {"domain": [0, 1, 2, 3], "range": [1140, 1178, 1140, 1178], "nice": false, "zero": false}},
        "y2": {"field": "to"}
      }
    }
  ]
}
